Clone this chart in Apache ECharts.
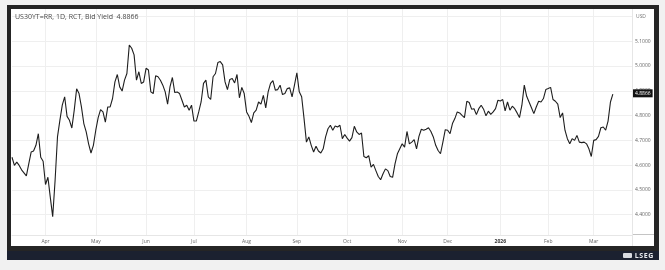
<!DOCTYPE html>
<html>
<head>
<meta charset="utf-8">
<script src="https://cdn.jsdelivr.net/npm/echarts@6/dist/echarts.min.js"></script>
<style>
  html, body { margin: 0; padding: 0; background: #f1f1f1; width: 665px; height: 270px; overflow: hidden; }
  #frame { position: absolute; left: 7px; top: 5px; width: 652px; height: 255px; background: #252525; }
  #chart { position: absolute; left: 11px; top: 9px; width: 643px; height: 237px; background: #ffffff; }
  #band { position: absolute; left: 7px; top: 251px; width: 652px; height: 9px; background: #1b2130; }
  #logo { position: absolute; right: 5px; top: 0px; height: 9px; line-height: 9px; color: #e8eaee; font-family: "Open Sans", sans-serif; font-size: 7px; font-weight: 700; letter-spacing: 0.6px; }
  #logo .ic { display: inline-block; width: 9px; height: 5px; background: #d8dbe0; margin-right: 3px; vertical-align: 0px; border-radius: 1px; }
  #sepH { position: absolute; left: 632px; top: 234px; width: 22px; height: 1px; background: #c4c4c4; }
  #sepV { position: absolute; left: 632px; top: 234px; width: 1px; height: 12px; background: #e6e6e6; }
</style>
</head>
<body>
<div id="frame"></div>
<div id="chart"></div>
<div id="sepH"></div>
<div id="sepV"></div>
<div id="band"><div id="logo"><span class="ic"></span>LSEG</div></div>
<script>
// US 30Y Treasury bid yield, daily, 12 Mar 2025 - 12 Mar 2026
const yieldsPart1 = [
  4.632, 4.599, 4.612, 4.599, 4.581, 4.569, 4.557, 4.605, 4.653, 4.657,
  4.680, 4.727, 4.632, 4.616, 4.522, 4.551, 4.470, 4.392, 4.538, 4.714,
  4.781, 4.842, 4.876, 4.797, 4.781, 4.750, 4.822, 4.908, 4.889, 4.835,
  4.768, 4.734, 4.686, 4.649, 4.680, 4.741, 4.792, 4.824, 4.815, 4.774,
  4.835, 4.835, 4.869, 4.936, 4.966, 4.916, 4.899, 4.943, 4.970, 5.085,
  5.072, 5.045, 4.943, 4.977, 4.930, 4.936, 4.991, 4.984, 4.896, 4.889,
  4.961, 4.957, 4.943, 4.923, 4.896, 4.846, 4.916, 4.954, 4.893, 4.895,
  4.889, 4.862, 4.835, 4.842, 4.822, 4.842, 4.778, 4.778, 4.815, 4.855,
  4.930, 4.943, 4.876, 4.865, 4.957, 4.970, 5.014, 5.018
];
const yieldsPart2 = [
  5.005, 4.936, 4.905, 4.946, 4.950, 4.932, 4.966, 4.872, 4.914, 4.889,
  4.815, 4.797, 4.772, 4.811, 4.822, 4.855, 4.846, 4.882, 4.831, 4.896,
  4.930, 4.941, 4.903, 4.905, 4.923, 4.885, 4.889, 4.909, 4.912, 4.876,
  4.923, 4.973, 4.896, 4.876, 4.788, 4.693, 4.714, 4.680, 4.653, 4.676,
  4.657, 4.649, 4.666, 4.714, 4.747, 4.761, 4.741, 4.758, 4.754, 4.761,
  4.707, 4.724, 4.709, 4.697, 4.711, 4.757, 4.734, 4.724, 4.730, 4.635,
  4.630, 4.638, 4.592, 4.603, 4.578, 4.554, 4.541, 4.565, 4.585, 4.578,
  4.554, 4.551, 4.605, 4.646, 4.666, 4.686, 4.673, 4.736, 4.686, 4.693,
  4.703, 4.666, 4.716
];
const yieldsPart3 = [
  4.745, 4.741, 4.745, 4.751, 4.736, 4.714, 4.680, 4.659, 4.646, 4.693,
  4.743, 4.741, 4.727, 4.768, 4.788, 4.815, 4.811, 4.801, 4.792, 4.858,
  4.853, 4.826, 4.828, 4.804, 4.828, 4.842, 4.826, 4.799, 4.818, 4.805,
  4.815, 4.828, 4.862, 4.859, 4.865, 4.819, 4.855, 4.822, 4.838, 4.828,
  4.811, 4.792, 4.842, 4.923, 4.878, 4.855, 4.832, 4.808, 4.835, 4.858,
  4.855, 4.869, 4.905, 4.909, 4.914, 4.865, 4.858, 4.846, 4.792, 4.811,
  4.741, 4.707, 4.686, 4.707, 4.700, 4.720, 4.693, 4.691, 4.693, 4.686,
  4.666, 4.635, 4.700, 4.703, 4.716, 4.751, 4.754, 4.741, 4.778, 4.855,
  4.8866
];
const startDate = '2025-03-12';
const futureDays = 8;
const holidays = ['2025-04-18','2025-05-26','2025-06-19','2025-07-04','2025-09-01',
                  '2025-11-27','2025-12-25','2026-01-01','2026-01-19','2026-02-16'];
const monthNames = ['Jan','Feb','Mar','Apr','May','Jun','Jul','Aug','Sep','Oct','Nov','Dec'];
const yTicks = [4.4, 4.5, 4.6, 4.7, 4.8, 4.9, 5.0, 5.1, 5.2];
const yLabelTicks = [4.4, 4.5, 4.6, 4.7, 4.8, 4.9, 5.0, 5.1];
const titleText = 'US30YT=RR, 1D, RCT, Bid Yield';
const unitText = 'USD';

const yields = yieldsPart1.concat(yieldsPart2, yieldsPart3);
const last = yields[yields.length - 1];

// business-day categories
const dates = [];
const d = new Date(startDate + 'T00:00:00Z');
while (dates.length < yields.length + futureDays) {
  const s = d.toISOString().slice(0, 10);
  const wd = d.getUTCDay();
  if (wd !== 0 && wd !== 6 && holidays.indexOf(s) < 0) dates.push(s);
  d.setUTCDate(d.getUTCDate() + 1);
}
const isMonthStart = (i) => i > 0 && dates[i].slice(5, 7) !== dates[i - 1].slice(5, 7);

const font = '"Open Sans", "Noto Sans", sans-serif';
const chart = echarts.init(document.getElementById('chart'), null, { renderer: 'canvas' });
chart.setOption({
  animation: false,
  backgroundColor: '#ffffff',
  title: [
    { text: titleText + '  ' + last.toFixed(4), left: 4, top: 4, padding: 0,
      textStyle: { fontSize: 7, fontWeight: 'normal', color: '#4a4a4a', fontFamily: font } },
    { text: unitText, right: 8, top: 5, padding: 0,
      textStyle: { fontSize: 5, fontWeight: 'normal', color: '#777', fontFamily: font } }
  ],
  grid: { left: 1, right: 22, top: 0, bottom: 11, containLabel: false },
  xAxis: {
    type: 'category',
    data: dates,
    boundaryGap: false,
    axisLine: { show: true, lineStyle: { color: '#e6e6e6', width: 1 } },
    axisTick: { show: false },
    axisLabel: {
      interval: (i) => isMonthStart(i),
      margin: 4,
      fontSize: 5,
      color: '#666',
      fontFamily: font,
      formatter: (v) => {
        const m = +v.slice(5, 7);
        return m === 1 ? '{b|' + v.slice(0, 4) + '}' : monthNames[m - 1];
      },
      rich: { b: { fontSize: 5, fontWeight: 'bold', color: '#333', fontFamily: font } }
    },
    splitLine: { show: true, interval: (i) => isMonthStart(i), lineStyle: { color: '#efefef', width: 1 } }
  },
  yAxis: {
    type: 'value',
    position: 'right',
    min: 4.318,
    max: 5.2304,
    axisLine: { show: true, lineStyle: { color: '#e6e6e6', width: 1 } },
    axisTick: { show: false, customValues: yTicks },
    axisLabel: {
      customValues: yLabelTicks,
      margin: 3,
      fontSize: 5,
      color: '#666',
      fontFamily: font,
      formatter: (v) => (+v).toFixed(4)
    },
    splitLine: { show: true, lineStyle: { color: '#efefef', width: 1 } }
  },
  series: [{
    type: 'line',
    data: yields,
    clip: false,
    showSymbol: false,
    symbol: 'none',
    lineStyle: { color: '#1e1e1e', width: 1.1 },
    z: 3,
    markLine: {
      silent: true,
      symbol: 'none',
      lineStyle: { color: 'rgba(0,0,0,0)', width: 0 },
      data: [{ yAxis: last }],
      label: {
        show: true,
        position: 'end',
        distance: 1,
        formatter: () => last.toFixed(4),
        backgroundColor: '#111',
        color: '#fff',
        fontSize: 5,
        fontFamily: font,
        padding: [2, 2, 1, 2]
      }
    }
  }]
});
</script>
</body>
</html>
